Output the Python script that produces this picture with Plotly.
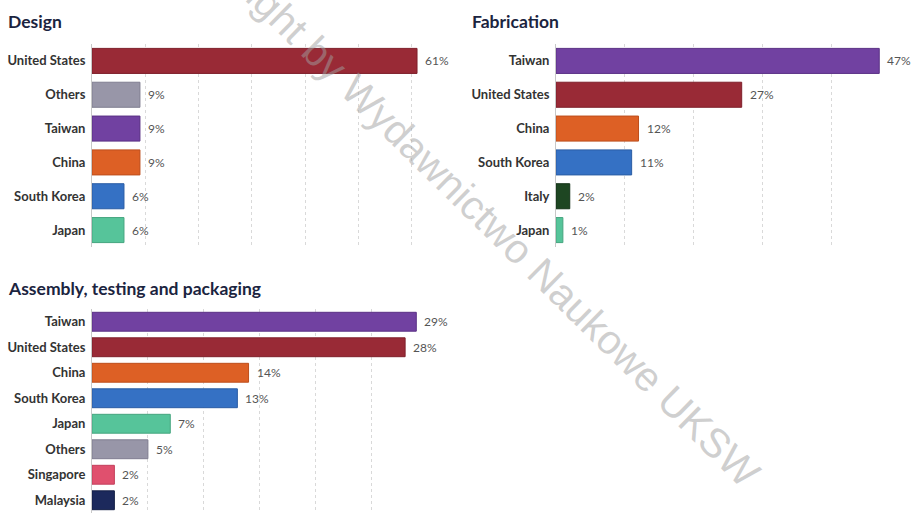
import plotly.graph_objects as go

# Design
design_countries = ["United States", "Others", "Taiwan", "China", "South Korea", "Japan"]
design_share = [61, 9, 9, 9, 6, 6]

# Fabrication
fab_countries = ["Taiwan", "United States", "China", "South Korea", "Italy", "Japan"]
fab_share = [47, 27, 12, 11, 2, 1]

# Assembly, testing and packaging
atp_countries = ["Taiwan", "United States", "China", "South Korea", "Japan", "Others",
                 "Singapore", "Malaysia"]
atp_share = [29, 28, 14, 13, 7, 5, 2, 2]

panel_titles = ["Design", "Fabrication", "Assembly, testing and packaging"]

country_colors = {
    "United States": "#992a36",
    "Others": "#9896a8",
    "Taiwan": "#7141a1",
    "China": "#dd6025",
    "South Korea": "#3571c4",
    "Japan": "#56c49a",
    "Italy": "#1e4622",
    "Singapore": "#e0506e",
    "Malaysia": "#1c295c",
}
outline_colors = {
    "United States": "#7e1f2a",
    "Others": "#7f7d90",
    "Taiwan": "#5a3185",
    "China": "#bd4e1c",
    "South Korea": "#2a5ca4",
    "Japan": "#45a57f",
    "Italy": "#143318",
    "Singapore": "#c23d5a",
    "Malaysia": "#121d44",
}

W, H = 912, 513
FONT = "Lato, 'Open Sans', sans-serif"

fig = go.Figure()

panels = [
    # (countries, values, axis suffix, x-domain px, y-domain px, x range, grid step)
    (design_countries, design_share, "", (92, 433), (44, 247), (0, 64), 10),
    (fab_countries, fab_share, "2", (556, 893), (44, 247), (0, 49), 10),
    (atp_countries, atp_share, "3", (92, 423), (309, 513), (0, 29.6), 5),
]

for countries, values, ax, (x0, x1), (y0, y1), xr, dt in panels:
    fig.add_trace(go.Bar(
        x=values,
        y=countries,
        orientation="h",
        marker=dict(color=[country_colors[c] for c in countries],
                    line=dict(color=[outline_colors[c] for c in countries], width=1)),
        xaxis="x" + ax,
        yaxis="y" + ax,
        hoverinfo="skip",
        showlegend=False,
    ))
    for c, v in zip(countries, values):
        fig.add_annotation(
            x=v, y=c, xref="x" + ax, yref="y" + ax,
            text=f"{v}%", showarrow=False, xanchor="left", xshift=6,
            font=dict(family=FONT, size=12, color="#555555"),
        )
    fig.layout["xaxis" + ax] = dict(
        domain=[x0 / W, x1 / W], range=list(xr), dtick=dt,
        showgrid=True, gridcolor="#d9d9d9", griddash="dot", gridwidth=1,
        zeroline=False, showticklabels=False, showline=False, fixedrange=True,
        anchor="y" + ax,
    )
    fig.layout["yaxis" + ax] = dict(
        domain=[1 - y1 / H, 1 - y0 / H], autorange="reversed",
        showline=True, linecolor="#c8c8c8", linewidth=1, showgrid=False,
        ticks="", ticklabelstandoff=3,
        tickfont=dict(family=FONT, size=13, color="#333333", weight="bold"),
        anchor="x" + ax, fixedrange=True,
    )

# Panel headings
for title, (px, py) in zip(panel_titles, [(6, 21), (470, 21), (6, 288)]):
    fig.add_annotation(
        x=px / W, y=1 - py / H, xref="paper", yref="paper",
        text=title, showarrow=False, xanchor="left", yanchor="middle",
        font=dict(family=FONT, size=17.5, color="#1b2440", weight="bold"),
    )

# Publisher watermark across the figure
fig.add_annotation(
    x=464 / W, y=1 - 196 / H, xref="paper", yref="paper",
    text="Copyright by Wydawnictwo Naukowe UKSW", showarrow=False,
    textangle=44.5, xanchor="center", yanchor="middle",
    font=dict(family="Liberation Sans, Arial, sans-serif", size=41,
              color="rgba(160,160,160,0.5)"),
)

fig.update_layout(
    width=W, height=H,
    margin=dict(l=0, r=0, t=0, b=0),
    paper_bgcolor="white", plot_bgcolor="white",
    bargap=0.26,
)

fig.write_html("out.html")
